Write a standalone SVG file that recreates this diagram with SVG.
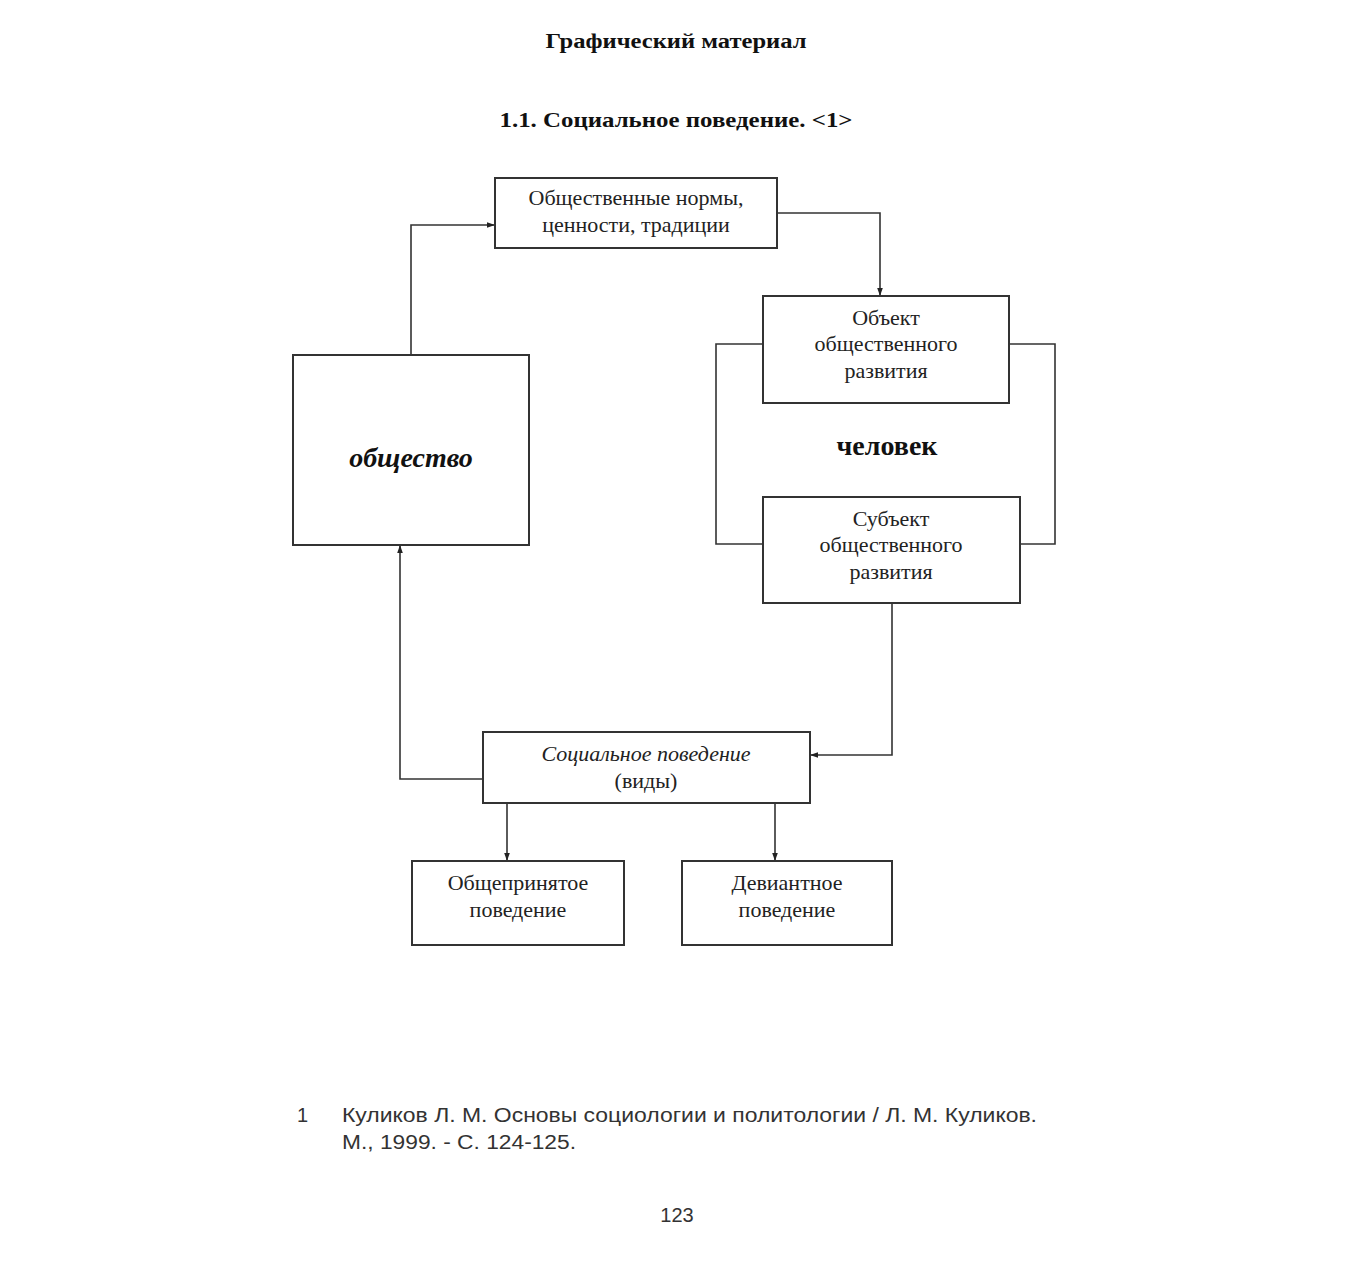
<svg xmlns="http://www.w3.org/2000/svg" width="1350" height="1267" viewBox="0 0 1350 1267">
<style>
.box{fill:#fff;stroke:#333;stroke-width:2}
.ln{fill:none;stroke:#333;stroke-width:1.6}
.t{font-family:"Liberation Serif","DejaVu Serif",serif;font-size:22px;fill:#222;text-anchor:middle}
.h{font-family:"Liberation Serif","DejaVu Serif",serif;font-weight:bold;fill:#111;text-anchor:middle}
.f{font-family:"Liberation Sans","DejaVu Sans",sans-serif;font-size:20px;fill:#333}
</style>
<defs>
<marker id="a" viewBox="0 0 10 10" refX="10" refY="5" markerWidth="8" markerHeight="8" orient="auto" markerUnits="userSpaceOnUse">
<path d="M0,1.5 L10,5 L0,8.5 Z" fill="#222"/>
</marker>
</defs>
<rect width="1350" height="1267" fill="#fff"/>
<text class="h" x="676" y="48" font-size="20" textLength="261" lengthAdjust="spacingAndGlyphs">Графический материал</text>
<text class="h" x="676" y="127" font-size="21" textLength="353" lengthAdjust="spacingAndGlyphs">1.1. Социальное поведение. &lt;1&gt;</text>

<g id="connectors">
<path class="ln" d="M411,355 V225 H495" marker-end="url(#a)"/>
<path class="ln" d="M777,213 H880 V296" marker-end="url(#a)"/>
<path class="ln" d="M763,344 H716 V544 H763"/>
<path class="ln" d="M1009,344 H1055 V544 H1020"/>
<path class="ln" d="M892,603 V755 H810" marker-end="url(#a)"/>
<path class="ln" d="M483,779 H400 V545" marker-end="url(#a)"/>
<path class="ln" d="M507,803 V861" marker-end="url(#a)"/>
<path class="ln" d="M775,803 V861" marker-end="url(#a)"/>
</g>

<g id="norms">
<rect class="box" x="495" y="178" width="282" height="70"/>
<text class="t" x="636" y="205">Общественные нормы,</text>
<text class="t" x="636" y="232">ценности, традиции</text>
</g>
<g id="society">
<rect class="box" x="293" y="355" width="236" height="190"/>
<text class="h" x="411" y="467" font-size="28" font-style="italic">общество</text>
</g>
<g id="object">
<rect class="box" x="763" y="296" width="246" height="107"/>
<text class="t" x="886" y="325">Объект</text>
<text class="t" x="886" y="351">общественного</text>
<text class="t" x="886" y="378">развития</text>
</g>
<g id="human">
<text class="h" x="887" y="455" font-size="28">человек</text>
</g>
<g id="subject">
<rect class="box" x="763" y="497" width="257" height="106"/>
<text class="t" x="891" y="526">Субъект</text>
<text class="t" x="891" y="552">общественного</text>
<text class="t" x="891" y="579">развития</text>
</g>
<g id="social">
<rect class="box" x="483" y="732" width="327" height="71"/>
<text class="t" x="646" y="761" font-style="italic">Социальное поведение</text>
<text class="t" x="646" y="788">(виды)</text>
</g>
<g id="common">
<rect class="box" x="412" y="861" width="212" height="84"/>
<text class="t" x="518" y="890">Общепринятое</text>
<text class="t" x="518" y="917">поведение</text>
</g>
<g id="deviant">
<rect class="box" x="682" y="861" width="210" height="84"/>
<text class="t" x="787" y="890">Девиантное</text>
<text class="t" x="787" y="917">поведение</text>
</g>

<text class="f" x="297" y="1122">1</text>
<text class="f" x="342" y="1122" textLength="695" lengthAdjust="spacingAndGlyphs">Куликов Л. М. Основы социологии и политологии / Л. М. Куликов.</text>
<text class="f" x="342" y="1149" textLength="234" lengthAdjust="spacingAndGlyphs">М., 1999. - С. 124-125.</text>
<text class="f" x="677" y="1222" text-anchor="middle">123</text>
</svg>
